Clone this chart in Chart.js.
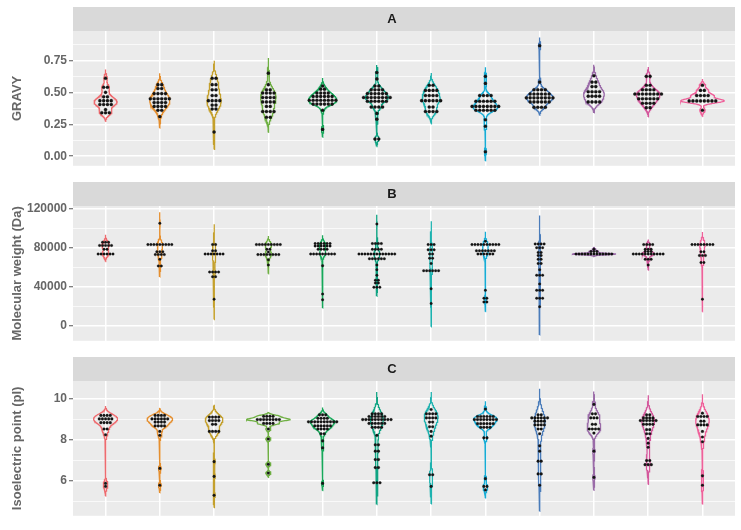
<!DOCTYPE html>
<html>
<head>
<meta charset="utf-8">
<script src="https://cdn.jsdelivr.net/npm/chart.js@4.4.1/dist/chart.umd.min.js"></script>
<style>
  html, body { margin: 0; padding: 0; background: #fff; }
  canvas.panel { position: absolute; left: 0; }
</style>
</head>
<body>
<canvas id="panelA" class="panel" width="741" height="175" style="top:0px"></canvas>
<canvas id="panelB" class="panel" width="741" height="175" style="top:175px"></canvas>
<canvas id="panelC" class="panel" width="741" height="175" style="top:350px"></canvas>
<script>
// groups along the x axis (no visible names), one colour each
const groupIds = [1, 2, 3, 4, 5, 6, 7, 8, 9, 10, 11, 12];
const groupColors = ['#EE6B6F', '#E58F2F', '#C4A02C', '#6FB043', '#17A85A', '#10A483',
                     '#1DB2AF', '#16ADD6', '#4A7CBA', '#9A6BA8', '#D4589C', '#EF619A'];

// panel A - GRAVY, one value per dot
const gravyValues = [
  [0.61, 0.54, 0.54, 0.50, 0.465, 0.465, 0.435, 0.435, 0.435, 0.435, 0.405, 0.405, 0.405, 0.405, 0.365, 0.34, 0.34, 0.34],
  [0.56, 0.56, 0.53, 0.53, 0.49, 0.49, 0.49, 0.49, 0.45, 0.45, 0.45, 0.45, 0.45, 0.45, 0.42, 0.42, 0.42, 0.42, 0.39, 0.39, 0.39, 0.39, 0.36, 0.36, 0.31],
  [0.61, 0.61, 0.56, 0.56, 0.52, 0.52, 0.475, 0.475, 0.435, 0.435, 0.435, 0.435, 0.40, 0.40, 0.37, 0.37, 0.19],
  [0.65, 0.56, 0.52, 0.52, 0.495, 0.495, 0.495, 0.495, 0.46, 0.46, 0.46, 0.46, 0.425, 0.425, 0.425, 0.425, 0.39, 0.39, 0.35, 0.35, 0.35, 0.35, 0.305, 0.305],
  [0.55, 0.525, 0.525, 0.495, 0.495, 0.495, 0.495, 0.468, 0.468, 0.468, 0.468, 0.468, 0.468, 0.438, 0.438, 0.438, 0.438, 0.438, 0.438, 0.438, 0.438, 0.408, 0.408, 0.408, 0.408, 0.408, 0.408, 0.36, 0.21],
  [0.655, 0.605, 0.55, 0.55, 0.52, 0.52, 0.52, 0.52, 0.49, 0.49, 0.49, 0.49, 0.49, 0.49, 0.46, 0.46, 0.46, 0.46, 0.46, 0.46, 0.46, 0.46, 0.43, 0.43, 0.43, 0.43, 0.43, 0.43, 0.385, 0.385, 0.385, 0.385, 0.335, 0.29, 0.135, 0.135],
  [0.555, 0.555, 0.515, 0.515, 0.515, 0.515, 0.475, 0.475, 0.475, 0.475, 0.435, 0.435, 0.435, 0.435, 0.435, 0.435, 0.385, 0.385, 0.35, 0.35, 0.35, 0.35],
  [0.625, 0.57, 0.475, 0.475, 0.475, 0.475, 0.43, 0.43, 0.43, 0.43, 0.43, 0.43, 0.39, 0.39, 0.39, 0.39, 0.39, 0.39, 0.39, 0.39, 0.36, 0.36, 0.36, 0.36, 0.36, 0.36, 0.285, 0.235, 0.035],
  [0.865, 0.58, 0.52, 0.52, 0.52, 0.52, 0.487, 0.487, 0.487, 0.487, 0.487, 0.487, 0.457, 0.457, 0.457, 0.457, 0.457, 0.457, 0.457, 0.457, 0.425, 0.425, 0.425, 0.425, 0.425, 0.425, 0.383, 0.383, 0.383, 0.383],
  [0.63, 0.58, 0.58, 0.545, 0.545, 0.505, 0.505, 0.505, 0.505, 0.47, 0.47, 0.47, 0.47, 0.425, 0.425, 0.425, 0.425],
  [0.625, 0.625, 0.555, 0.555, 0.52, 0.52, 0.52, 0.52, 0.487, 0.487, 0.487, 0.487, 0.487, 0.487, 0.487, 0.487, 0.45, 0.45, 0.45, 0.45, 0.45, 0.45, 0.415, 0.415, 0.415, 0.415, 0.38, 0.38],
  [0.555, 0.515, 0.515, 0.475, 0.475, 0.475, 0.475, 0.433, 0.433, 0.433, 0.433, 0.433, 0.433, 0.433, 0.433, 0.36]
];

// panel B - molecular weight (Da)
const weightValues = [
  [86000, 86000, 86000, 82700, 82700, 82700, 82700, 82700, 78800, 78800, 73900, 73900, 73900, 73900, 73900, 73900],
  [105400, 83600, 83600, 83600, 83600, 83600, 83600, 83600, 83600, 83600, 76200, 76200, 76200, 73300, 73300, 73300, 73300, 68500, 61700, 61700],
  [83600, 83600, 77200, 77200, 73900, 73900, 73900, 73900, 73900, 73900, 73900, 55400, 55400, 55400, 55400, 50600, 50600, 27600],
  [83600, 83600, 83600, 83600, 83600, 83600, 83600, 83600, 83600, 78800, 78800, 76000, 73300, 73300, 73300, 73300, 73300, 73300, 73300, 73300, 68100, 62600],
  [84600, 84600, 84600, 84600, 84600, 84600, 82100, 82100, 82100, 82100, 82100, 82100, 78800, 78800, 78800, 78800, 73900, 73900, 73900, 73900, 73900, 73900, 73900, 73900, 73900, 62000, 32800, 26900],
  [104700, 84600, 84600, 84600, 84600, 78800, 78800, 78800, 78800, 73900, 73900, 73900, 73900, 73900, 73900, 73900, 73900, 73900, 73900, 73900, 73900, 73900, 69000, 69000, 69000, 69000, 69000, 69000, 62600, 57800, 52200, 47100, 47100, 44200, 44200, 39900, 39900, 39900],
  [83600, 83600, 83600, 78200, 78200, 78200, 73900, 73900, 69700, 69700, 64200, 56800, 56800, 56800, 56800, 56800, 56800, 38300, 23100],
  [86900, 83600, 83600, 83600, 83600, 83600, 83600, 83600, 83600, 83600, 83600, 77200, 77200, 77200, 77200, 77200, 77200, 77200, 73900, 73900, 73900, 73900, 73900, 73900, 36700, 28600, 28600, 24700, 24700],
  [84300, 84300, 84300, 84300, 80400, 80400, 80400, 75600, 75600, 72400, 72400, 68500, 68500, 64200, 64200, 57800, 52200, 52200, 52200, 43200, 36700, 36700, 36700, 28600, 28600, 28600, 19800],
  [78800, 76500, 76500, 76500, 73900, 73900, 73900, 73900, 73900, 73900, 73900, 73900, 73900, 73900, 73900, 73900, 73900],
  [83600, 83600, 83600, 83600, 78800, 78800, 78800, 76500, 76500, 76500, 73900, 73900, 73900, 73900, 73900, 73900, 73900, 73900, 73900, 73900, 73900, 68500, 68500, 68500, 62600],
  [83600, 83600, 83600, 83600, 83600, 83600, 83600, 83600, 76200, 76200, 72400, 72400, 72400, 65200, 65200, 27600]
];

// panel C - isoelectric point
const pIValues = [
  [9.20, 9.20, 9.20, 9.20, 9.03, 9.03, 9.03, 9.03, 9.03, 8.85, 8.85, 8.85, 8.85, 8.54, 8.54, 8.26, 5.89, 5.74],
  [9.20, 9.20, 9.20, 9.20, 9.03, 9.03, 9.03, 9.03, 9.03, 9.03, 8.88, 8.88, 8.88, 8.88, 8.69, 8.69, 8.69, 8.69, 8.42, 8.23, 6.62, 5.80],
  [9.12, 9.12, 9.12, 9.12, 8.95, 8.95, 8.95, 8.95, 8.77, 8.77, 8.42, 8.42, 8.42, 8.42, 6.95, 6.23, 5.31],
  [9.16, 9.16, 9.16, 9.16, 9.00, 9.00, 9.00, 9.00, 9.00, 9.00, 9.00, 9.00, 8.81, 8.81, 8.81, 8.81, 8.54, 8.05, 6.82, 6.39],
  [9.23, 9.23, 9.23, 9.06, 9.06, 9.06, 9.06, 8.89, 8.89, 8.89, 8.89, 8.89, 8.89, 8.89, 8.89, 8.89, 8.89, 8.69, 8.69, 8.69, 8.69, 8.69, 8.69, 8.54, 8.54, 8.54, 8.54, 8.31, 8.31, 7.96, 7.62, 5.89],
  [9.28, 9.28, 9.28, 9.28, 9.15, 9.15, 9.15, 9.15, 9.15, 9.15, 9.00, 9.00, 9.00, 9.00, 9.00, 9.00, 9.00, 9.00, 9.00, 9.00, 8.81, 8.81, 8.81, 8.81, 8.81, 8.81, 8.62, 8.62, 8.62, 8.62, 8.23, 7.77, 7.77, 7.46, 7.46, 7.05, 7.05, 6.66, 6.66, 5.92, 5.92, 5.92],
  [9.49, 9.28, 9.28, 9.28, 9.28, 9.08, 9.08, 9.08, 9.08, 8.88, 8.88, 8.65, 8.65, 8.42, 8.19, 6.31, 6.31, 5.74],
  [9.51, 9.15, 9.15, 9.15, 9.15, 9.15, 9.15, 9.00, 9.00, 9.00, 9.00, 9.00, 9.00, 9.00, 9.00, 8.80, 8.80, 8.80, 8.80, 8.80, 8.80, 8.62, 8.62, 8.62, 8.62, 8.11, 8.11, 6.12, 5.74, 5.74, 5.57],
  [9.23, 9.23, 9.08, 9.08, 9.08, 9.08, 9.08, 9.08, 8.92, 8.92, 8.92, 8.92, 8.74, 8.74, 8.74, 8.74, 8.54, 8.54, 8.31, 7.72, 7.46, 6.97, 6.97, 6.35, 6.35, 5.80],
  [9.74, 9.28, 9.28, 9.08, 9.08, 9.08, 8.77, 8.77, 8.54, 8.54, 8.54, 8.54, 8.34, 7.46, 6.18],
  [9.23, 9.23, 9.08, 9.08, 9.08, 9.08, 8.95, 8.95, 8.95, 8.95, 8.95, 8.95, 8.77, 8.77, 8.77, 8.77, 8.51, 8.51, 8.31, 8.31, 8.08, 7.85, 7.65, 7.00, 7.00, 6.80, 6.80, 6.80],
  [9.31, 9.15, 9.15, 9.15, 9.15, 8.92, 8.92, 8.74, 8.74, 8.74, 8.74, 8.42, 8.15, 7.92, 6.26, 5.80]
];

// y axis ticks per panel
const gravyMajorTicks = [0, 0.25, 0.5, 0.75];
const gravyMinorTicks = [0.125, 0.375, 0.625, 0.875];
const weightMajorTicks = [0, 40000, 80000, 120000];
const weightMinorTicks = [20000, 60000, 100000];
const pIMajorTicks = [6, 8, 10];
const pIMinorTicks = [5, 7, 9];

const FONT = "'Liberation Sans', Arial, Helvetica, sans-serif";
const PANEL_BG = '#EBEBEB';
const STRIP_BG = '#D9D9D9';
const TEXT_GREY = '#666666';
const VIOLIN_HALF_WIDTH = 0.4;   // widest violin of a panel, in group units

// gray panel background + facet strip, drawn before the grid
const facetPlugin = {
    id: 'facet',
    beforeDraw(chart, args, opts) {
        const { ctx, chartArea: a } = chart;
        ctx.save();
        ctx.fillStyle = PANEL_BG;
        ctx.fillRect(a.left, a.top, a.right - a.left, a.bottom - a.top);
        ctx.fillStyle = STRIP_BG;
        ctx.fillRect(a.left, a.top - 24, a.right - a.left, 24);
        ctx.fillStyle = '#1a1a1a';
        ctx.font = 'bold 13px ' + FONT;
        ctx.textAlign = 'center';
        ctx.textBaseline = 'middle';
        ctx.fillText(opts.label, opts.labelX, a.top - 11.5);
        ctx.restore();
    }
};

function quantile(sorted, p) {
    const h = (sorted.length - 1) * p;
    const lo = Math.floor(h);
    const hi = Math.min(lo + 1, sorted.length - 1);
    return sorted[lo] + (h - lo) * (sorted[hi] - sorted[lo]);
}

// gaussian kde like R's density() with bw.nrd0, not trimmed (cut = 3)
function densityCurve(values) {
    const n = values.length;
    const mean = values.reduce((a, b) => a + b, 0) / n;
    const sd = Math.sqrt(values.reduce((a, b) => a + (b - mean) ** 2, 0) / (n - 1));
    const s = [...values].sort((a, b) => a - b);
    let lo = Math.min(sd, (quantile(s, 0.75) - quantile(s, 0.25)) / 1.34);
    if (!(lo > 0)) lo = sd || 1;
    const bw = 0.9 * lo * Math.pow(n, -0.2);
    const from = s[0] - 3 * bw;
    const to = s[n - 1] + 3 * bw;
    const ys = [], ds = [];
    for (let i = 0; i < 300; i++) {
        const y = from + (to - from) * i / 299;
        let d = 0;
        for (const v of values) {
            const z = (y - v) / bw;
            d += Math.exp(-0.5 * z * z);
        }
        ys.push(y);
        ds.push(d / (n * bw * Math.sqrt(2 * Math.PI)));
    }
    return { ys, ds };
}

// dotplot: equal values stacked side by side, centred on the group
function dotPoints(values, gx, step) {
    const rows = new Map();
    values.forEach(v => rows.set(v, (rows.get(v) || 0) + 1));
    const pts = [];
    rows.forEach((count, v) => {
        for (let i = 0; i < count; i++) {
            pts.push({ x: gx + (i - (count - 1) / 2) * step, y: v });
        }
    });
    return pts;
}

function buildPanel(cfg) {
    const curves = cfg.values.map(densityCurve);
    const maxD = Math.max(...curves.map(c => Math.max(...c.ds)));
    const datasets = [];

    cfg.values.forEach((vals, i) => {
        const gx = groupIds[i];
        const c = curves[i];
        const outline = [];
        c.ys.forEach((y, k) => outline.push({ x: gx + VIOLIN_HALF_WIDTH * c.ds[k] / maxD, y }));
        for (let k = c.ys.length - 1; k >= 0; k--) {
            outline.push({ x: gx - VIOLIN_HALF_WIDTH * c.ds[k] / maxD, y: c.ys[k] });
        }
        outline.push(outline[0]);

        datasets.push({
            data: outline,
            showLine: true,
            borderColor: groupColors[i],
            borderWidth: 1.3,
            pointRadius: 0,
            fill: false,
            order: 2
        });
        datasets.push({
            data: dotPoints(vals, gx, cfg.dotStep),
            pointRadius: cfg.dotRadius,
            backgroundColor: '#161616',
            borderColor: '#000000',
            borderWidth: 0.3,
            order: 1
        });
    });

    const allTicks = [...cfg.major, ...cfg.minor].sort((a, b) => a - b);
    const isMajor = v => cfg.major.includes(v);

    return new Chart(document.getElementById(cfg.canvas), {
        type: 'scatter',
        data: { datasets },
        options: {
            responsive: false,
            animation: false,
            events: [],
            layout: { padding: { top: 31, bottom: 2, left: 0, right: 6 } },
            plugins: {
                legend: { display: false },
                tooltip: { enabled: false },
                facet: { label: cfg.label, labelX: 392 }
            },
            scales: {
                x: {
                    type: 'linear',
                    min: 0.4,
                    max: 12.6,
                    afterBuildTicks: scale => { scale.ticks = groupIds.map(v => ({ value: v })); },
                    afterFit: scale => { scale.height = 0; },
                    ticks: { display: false },
                    grid: { color: '#ffffff', lineWidth: 1.5, drawTicks: false },
                    border: { display: false }
                },
                y: {
                    min: cfg.min,
                    max: cfg.max,
                    afterBuildTicks: scale => { scale.ticks = allTicks.map(v => ({ value: v })); },
                    afterFit: scale => { scale.width = 73; },
                    ticks: {
                        autoSkip: false,
                        padding: 2,
                        color: TEXT_GREY,
                        font: { family: FONT, size: 12, weight: 'bold' },
                        callback: v => isMajor(v) ? cfg.format(v) : ''
                    },
                    grid: {
                        color: '#ffffff',
                        lineWidth: ctx => isMajor(ctx.tick.value) ? 1.5 : 0.7,
                        tickColor: ctx => isMajor(ctx.tick.value) ? '#555555' : 'rgba(0,0,0,0)',
                        tickLength: 4,
                        tickWidth: 1
                    },
                    border: { display: false },
                    title: {
                        display: true,
                        text: cfg.title,
                        color: TEXT_GREY,
                        font: { family: FONT, size: 13, weight: 'bold' },
                        padding: { top: 10, bottom: 0 }
                    }
                }
            }
        },
        plugins: [facetPlugin]
    });
}

buildPanel({
    canvas: 'panelA', label: 'A', title: 'GRAVY', values: gravyValues,
    min: -0.075, max: 0.98, major: gravyMajorTicks, minor: gravyMinorTicks,
    format: v => v.toFixed(2), dotStep: 0.07, dotRadius: 1.55
});
buildPanel({
    canvas: 'panelB', label: 'B', title: 'Molecular weight (Da)', values: weightValues,
    min: -15150, max: 123200, major: weightMajorTicks, minor: weightMinorTicks,
    format: v => String(v), dotStep: 0.055, dotRadius: 1.25
});
buildPanel({
    canvas: 'panelC', label: 'C', title: 'Isoelectric point (pI)', values: pIValues,
    min: 4.31, max: 10.88, major: pIMajorTicks, minor: pIMinorTicks,
    format: v => String(v), dotStep: 0.058, dotRadius: 1.35
});
</script>
</body>
</html>
